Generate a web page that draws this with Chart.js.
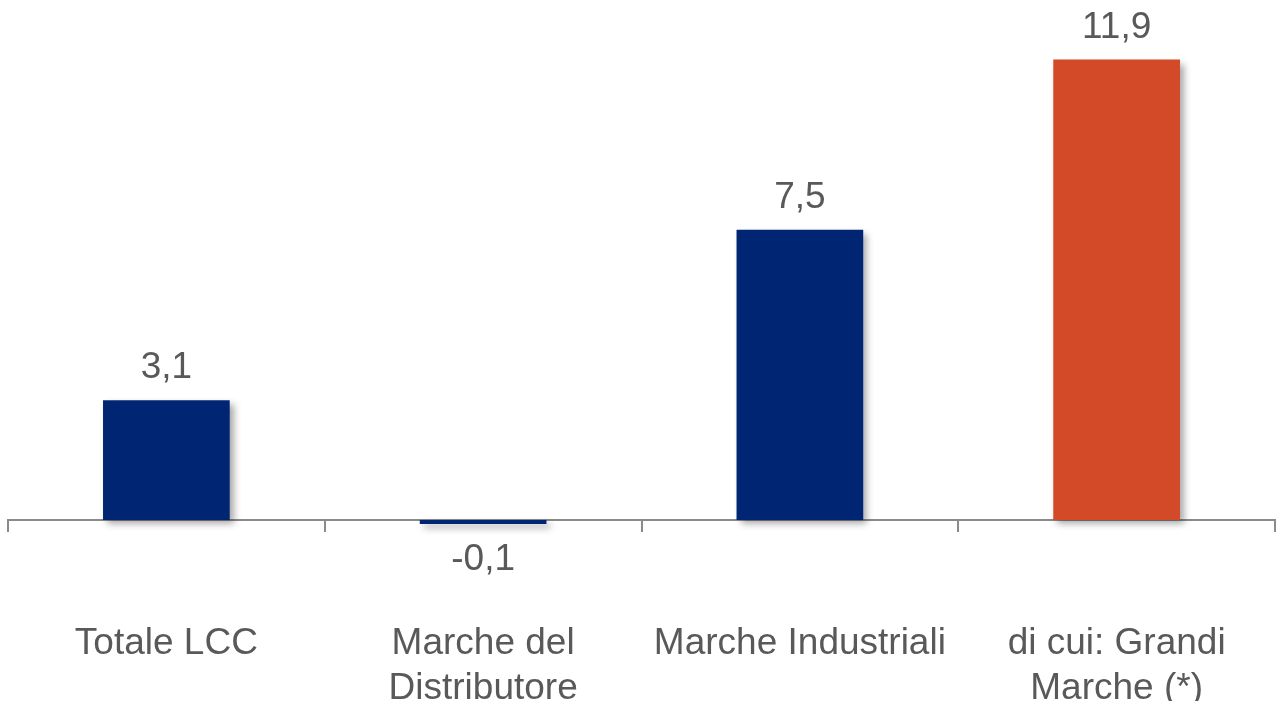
<!DOCTYPE html>
<html>
<head>
<meta charset="utf-8">
<script src="https://cdn.jsdelivr.net/npm/chart.js@4"></script>
<style>
  html, body { margin: 0; padding: 0; background: #fff; }
  #wrap { width: 1280px; height: 701px; }
</style>
</head>
<body>
<div id="wrap"><canvas id="salesChart"></canvas></div>
<script>
// chart data
const categories = [['Totale LCC'], ['Marche del', 'Distributore'], ['Marche Industriali'], ['di cui: Grandi', 'Marche (*)']];
const values = [3.1, -0.1, 7.5, 11.9];
const barColors = ['#002673', '#002673', '#002673', '#D24A28'];

const textColor = '#595959';
const axisColor = '#8a8a8a';
const fontFamily = '"Liberation Sans", Arial, sans-serif';

/* soft drop shadow under the bars */
const shadowPlugin = {
    id: 'barShadow',
    beforeDatasetsDraw(chart) {
        const ctx = chart.ctx;
        ctx.save();
        ctx.shadowColor = 'rgba(0, 0, 0, 0.35)';
        ctx.shadowBlur = 7;
        ctx.shadowOffsetX = 4;
        ctx.shadowOffsetY = 4;
    },
    afterDatasetsDraw(chart) {
        chart.ctx.restore();
    }
};

/* value labels above / below bars */
const valueLabels = {
    id: 'valueLabels',
    afterDraw(chart) {
        const ctx = chart.ctx;
        const meta = chart.getDatasetMeta(0);
        ctx.save();
        ctx.font = '37px ' + fontFamily;
        ctx.fillStyle = textColor;
        ctx.textAlign = 'center';
        ctx.textBaseline = 'middle';
        meta.data.forEach((bar, i) => {
            const v = values[i];
            const txt = v.toFixed(1).replace('.', ',');
            if (v >= 0) {
                ctx.fillText(txt, bar.x, bar.y - 32);
            } else {
                ctx.fillText(txt, bar.x, bar.y + 36);
            }
        });
        ctx.restore();
    }
};

let ctx = document.getElementById('salesChart').getContext('2d');
let chart = new Chart(ctx, {
    type: 'bar',
    data: {
        labels: categories,
        datasets: [{
            label: 'Variazione',
            data: values,
            backgroundColor: barColors,
            borderWidth: 0,
            barPercentage: 0.4,
            categoryPercentage: 1,
            clip: false
        }]
    },
    options: {
        responsive: true,
        maintainAspectRatio: false,
        animation: false,
        layout: {
            padding: { top: 17, bottom: 103.5, left: 8, right: 5 }
        },
        plugins: {
            legend: { display: false },
            tooltip: { enabled: false }
        },
        scales: {
            x: {
                position: { y: 0 },
                afterFit: (scale) => {
                    scale.height = 0;
                    scale.paddingLeft = 0;
                    scale.paddingRight = 0;
                },
                grid: {
                    offset: true,
                    drawOnChartArea: false,
                    drawTicks: true,
                    tickLength: 11,
                    color: axisColor,
                    lineWidth: 2
                },
                border: { display: true, color: axisColor, width: 2 },
                ticks: {
                    padding: 90,
                    color: textColor,
                    maxRotation: 0,
                    autoSkip: false,
                    font: { family: fontFamily, size: 37, lineHeight: 1.22 }
                }
            },
            y: {
                display: false,
                min: -2,
                max: 13
            }
        }
    },
    plugins: [shadowPlugin, valueLabels]
});
</script>
</body>
</html>
